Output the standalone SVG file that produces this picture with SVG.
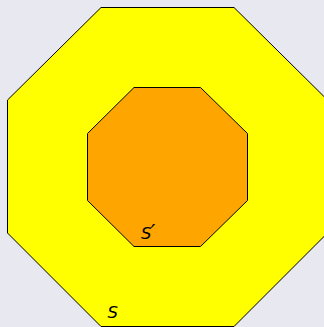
<svg xmlns="http://www.w3.org/2000/svg" width="324" height="327" viewBox="0 0 324 327">
<style>
.oct{stroke:#000;stroke-width:1;stroke-linejoin:miter}
.lbl{font-family:"DejaVu Sans",sans-serif;font-style:oblique;font-size:16.5px;fill:#000}
</style>
<rect width="324" height="327" fill="#e8e8f1"/>
<g id="S">
<polygon class="oct" fill="#ffff00" points="101,7.5 234,7.5 327.5,100 327.5,233 234,326.5 101,326.5 7.5,233 7.5,100"/>
<text class="lbl" x="107.5" y="318">S</text>
</g>
<g id="Sprime">
<polygon class="oct" fill="#ffa500" points="134,87.5 200.5,87.5 247.5,133.5 247.5,200.5 200.5,246.5 134,246.5 87.5,200.5 87.5,133.5"/>
<text class="lbl" x="141" y="239">S<tspan font-size="21" dx="-1" dy="1">′</tspan></text>
</g>
<g id="connectors"/>
</svg>
